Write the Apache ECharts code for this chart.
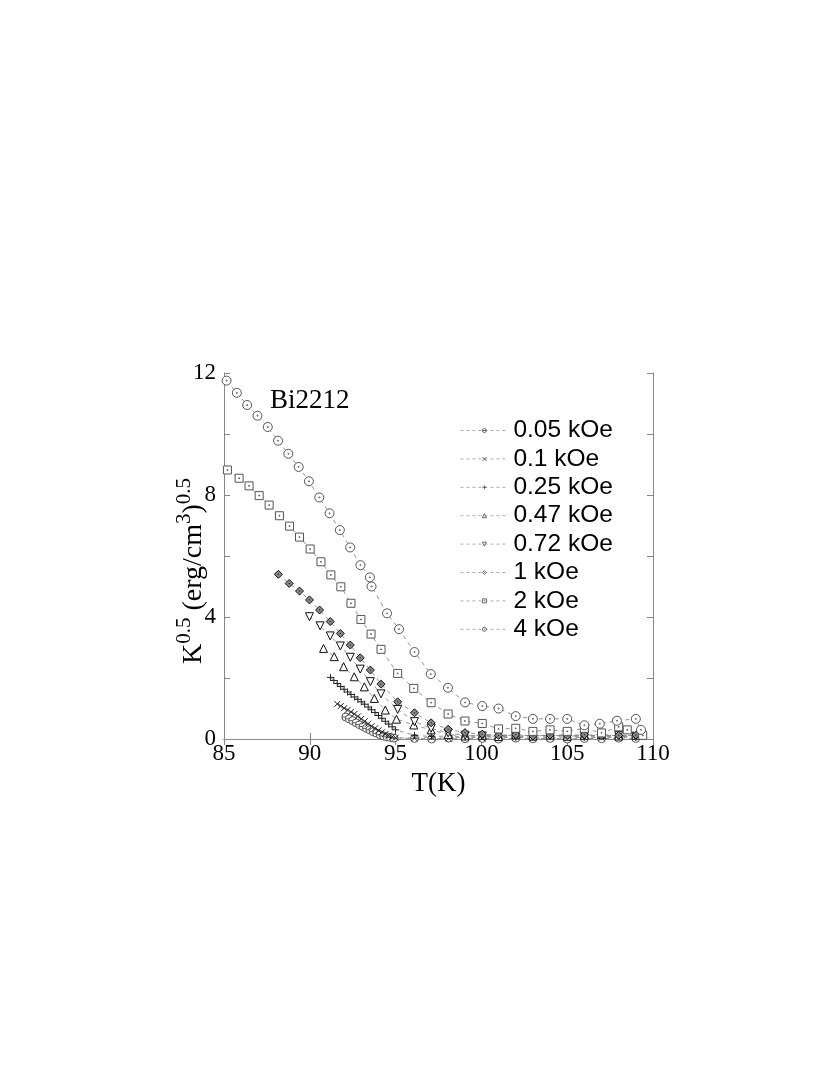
<!DOCTYPE html>
<html>
<head>
<meta charset="utf-8">
<script src="https://cdn.jsdelivr.net/npm/echarts@6/dist/echarts.min.js"></script>
<style>
html,body{margin:0;padding:0;background:#fff;}
#chart{width:830px;height:1075px;}
</style>
</head>
<body>
<div id="chart"></div>
<script>
// ---- data (T in K, K^0.5 in (erg/cm^3)^0.5) ----
const xTicks = [85, 90, 95, 100, 105, 110];
const yTicks = [0, 4, 8, 12];
const seriesNames = ['0.05 kOe', '0.1 kOe', '0.25 kOe', '0.47 kOe', '0.72 kOe', '1 kOe', '2 kOe', '4 kOe'];

const d005 = [[92.1,0.72],[92.3,0.66],[92.5,0.6],[92.7,0.53],[92.9,0.47],[93.1,0.41],[93.3,0.35],[93.5,0.3],[93.7,0.24],[93.9,0.19],[94.1,0.14],[94.3,0.1],[94.5,0.07],[94.7,0.05],[94.9,0.03],
  [96.1,0.02],[97.1,0.0],[98.1,0.03],[99.05,0.01],[100.05,0.02],[101,0.0],[102,0.03],[103,0.01],[104,0.02],[105,0.0],[106,0.02],[107,0.01],[108,0.03],[109,0.02]];
const d01 = [[91.6,1.15],[91.8,1.08],[92.0,1.01],[92.2,0.95],[92.4,0.89],[92.6,0.82],[92.8,0.74],[93.0,0.66],[93.2,0.58],[93.4,0.5],[93.6,0.42],[93.8,0.35],[94.0,0.28],[94.2,0.22],[94.4,0.16],[94.6,0.11],[94.8,0.07],[95.0,0.04],
  [96.1,0.03],[97.1,0.05],[98.1,0.02],[99.05,0.06],[100.05,0.03],[101,0.04],[102,0.06],[103,0.02],[104,0.05],[105,0.03],[106,0.06],[107,0.04],[108,0.05],[109,0.07]];
const d025 = [[91.2,2.02],[91.4,1.92],[91.6,1.82],[91.8,1.72],[92.0,1.63],[92.2,1.54],[92.4,1.46],[92.6,1.38],[92.8,1.3],[93.0,1.22],[93.2,1.14],[93.4,1.05],[93.6,0.96],[93.8,0.87],[94.0,0.77],[94.2,0.68],[94.4,0.58],[94.6,0.49],[94.8,0.4],[95.0,0.3],
  [96.1,0.12],[97.1,0.08],[98.1,0.1],[99.05,0.06],[100.05,0.09],[101,0.07],[102,0.1],[103,0.05],[104,0.08],[105,0.1],[106,0.06],[107,0.09],[108,0.07],[109,0.1]];
const d047 = [[90.8,2.97],[91.42,2.7],[91.97,2.37],[92.59,2.04],[93.18,1.71],[93.76,1.33],[94.4,0.95],[95.05,0.65],[96.06,0.46],[97.07,0.3],[98.06,0.15],
  [99.05,0.1],[100.05,0.12],[101,0.08],[102,0.14],[103,0.1],[104,0.13],[105,0.09],[106,0.12],[107,0.15],[108,0.1],[109,0.12]];
const d072 = [[89.98,4.01],[90.6,3.71],[91.19,3.38],[91.78,3.05],[92.36,2.68],[92.94,2.29],[93.53,1.88],[94.15,1.48],[95.12,0.97],[96.1,0.57],[97.07,0.35],[98.06,0.2],
  [99.05,0.12],[100.05,0.1],[101,0.14],[102,0.08],[103,0.12],[104,0.1],[105,0.15],[106,0.09],[107,0.13],[108,0.11],[109,0.08]];
const d1 = [[88.17,5.4],[88.8,5.1],[89.4,4.85],[89.98,4.56],[90.57,4.23],[91.19,3.85],[91.78,3.46],[92.36,3.08],[92.94,2.66],[93.53,2.26],[94.15,1.8],[95.12,1.22],[96.1,0.86],[97.07,0.53],[98.06,0.32],[99.04,0.21],
  [100.05,0.16],[101,0.12],[102,0.14],[103,0.1],[104,0.13],[105,0.11],[106,0.14],[107,0.1],[108,0.12],[109,0.13]];
const d2 = [[85.2,8.82],[85.88,8.55],[86.46,8.3],[87.05,7.98],[87.63,7.67],[88.23,7.32],[88.82,6.98],[89.4,6.62],[90.02,6.23],[90.65,5.81],[91.23,5.38],[91.81,4.99],[92.4,4.45],[92.98,3.92],[93.57,3.44],[94.15,2.94],[95.12,2.15],[96.06,1.66],[97.07,1.19],[98.06,0.82],[99.04,0.59],
  [100.05,0.51],[101,0.33],[102,0.35],[103,0.25],[104,0.3],[105,0.25],[106,0.35],[107,0.2],[108,0.4],[108.5,0.3],[109.4,0.12]];
const d4 = [[85.15,11.75],[85.75,11.35],[86.35,10.95],[86.95,10.6],[87.55,10.23],[88.15,9.78],[88.75,9.35],[89.35,8.92],[89.95,8.45],[90.55,7.92],[91.15,7.4],[91.75,6.85],[92.35,6.28],[92.95,5.7],[93.5,5.3],[93.6,5.0],[94.5,4.12],[95.2,3.6],[96.1,2.85],[97.05,2.13],[98.05,1.68],[99.05,1.2],[100.05,1.08],[101,1.0],[102,0.75],[103,0.66],[104,0.66],[105,0.66],[106,0.45],[106.9,0.5],[107.9,0.6],[109,0.66],[109.3,0.3]];

const allData = [d005, d01, d025, d047, d072, d1, d2, d4];

// ---- marker shapes ----
const symCircleBar = 'path://M10,5 A5,5 0 1 1 0,5 A5,5 0 1 1 10,5 Z M0,5 L10,5';
const symX = 'path://M0,0 L10,10 M10,0 L0,10';
const symPlus = 'path://M5,0 L5,10 M0,5 L10,5';
const symTriUp = 'path://M5,0 L10,9 L0,9 Z';
const symTriDown = 'path://M0,0 L10,0 L5,9 Z';
const symDiamond = 'path://M5,0 L10,5 L5,10 L0,5 Z M4.3,5 L5.7,5';
const symSquareDot = 'path://M0,0 L10,0 L10,10 L0,10 Z M4.5,4.5 L5.5,4.5 L5.5,5.5 L4.5,5.5 Z';
const symCircleDot = 'path://M10,5 A5,5 0 1 1 0,5 A5,5 0 1 1 10,5 Z M5.6,5 A0.6,0.6 0 1 1 4.4,5 A0.6,0.6 0 1 1 5.6,5 Z';

const styles = [
  {symbol: symCircleBar, size: 8, fill: '#fff', stroke: '#555'},
  {symbol: symX, size: 6, fill: '#fff', stroke: '#222'},
  {symbol: symPlus, size: 7, fill: '#fff', stroke: '#222'},
  {symbol: symTriUp, size: 8, fill: '#fff', stroke: '#111'},
  {symbol: symTriDown, size: 8, fill: '#fff', stroke: '#111'},
  {symbol: symDiamond, size: 8, fill: '#888', stroke: '#111'},
  {symbol: symSquareDot, size: 8, fill: '#fff', stroke: '#555'},
  {symbol: symCircleDot, size: 9, fill: '#fff', stroke: '#555'}
];

const series = seriesNames.map((name, i) => ({
  name: name,
  type: 'line',
  data: allData[i],
  symbol: styles[i].symbol,
  symbolSize: styles[i].size,
  showAllSymbol: true,
  lineStyle: {color: '#777', width: 0.8, type: [4, 4]},
  itemStyle: {color: styles[i].fill, borderColor: styles[i].stroke, borderWidth: 1},
  emphasis: {disabled: true},
  animation: false,
  z: 2 + i
}));

const chart = echarts.init(document.getElementById('chart'), null, {renderer: 'canvas'});
const serif = 'Liberation Serif';
chart.setOption({
  backgroundColor: '#fff',
  animation: false,
  grid: {left: 224, right: 177, top: 373, bottom: 336, containLabel: false},
  title: {
    text: 'Bi2212', left: 265, top: 382,
    textStyle: {fontFamily: serif, fontSize: 27, fontWeight: 'normal', color: '#000'}
  },
  legend: {
    data: seriesNames,
    orient: 'vertical',
    left: 460, top: 418, padding: 0,
    itemWidth: 48, itemHeight: 5, itemGap: 3.4,
    textStyle: {fontFamily: 'Liberation Sans', fontSize: 24.5, lineHeight: 24, color: '#000'},
    itemStyle: {color: '#fff', borderColor: '#444', borderWidth: 0.8},
    lineStyle: {color: '#999', width: 0.8, type: [3, 3]},
    selectedMode: false
  },
  xAxis: [{
    type: 'value', min: 85, max: 110, interval: 5,
    name: 'T(K)', nameLocation: 'middle', nameGap: 31, nameMoveOverlap: false,
    nameTextStyle: {fontFamily: serif, fontSize: 27, color: '#000'},
    axisLine: {show: true, lineStyle: {color: '#888', width: 1}},
    axisTick: {show: true, inside: true, length: 6, lineStyle: {color: '#888'}},
    axisLabel: {fontFamily: serif, fontSize: 23, color: '#000', margin: 3},
    splitLine: {show: false}
  }, {
    type: 'value', min: 85, max: 110, interval: 5, position: 'top',
    axisLine: {show: true, lineStyle: {color: '#888', width: 1}},
    axisTick: {show: true, inside: true, length: 6, lineStyle: {color: '#888'}},
    axisLabel: {show: false}, splitLine: {show: false}
  }],
  yAxis: [{
    type: 'value', min: 0, max: 12, interval: 2,
    name: '{b|K}{s|0.5}{b| (erg/cm}{s|3}{b|)}{s|0.5}',
    nameLocation: 'middle', nameGap: 16, nameRotate: 90, nameMoveOverlap: false,
    nameTextStyle: {
      fontFamily: serif, fontSize: 28, color: '#000', padding: [0, 30, 0, 0],
      rich: {
        b: {fontFamily: serif, fontSize: 28, color: '#000', verticalAlign: 'bottom', lineHeight: 34},
        s: {fontFamily: serif, fontSize: 21, color: '#000', verticalAlign: 'top', lineHeight: 34, padding: [0, 0, 12, 0]}
      }
    },
    axisLine: {show: true, lineStyle: {color: '#888', width: 1}},
    axisTick: {show: true, inside: true, length: 6, lineStyle: {color: '#888'}},
    axisLabel: {
      fontFamily: serif, fontSize: 23, color: '#000', margin: 8,
      formatter: v => (yTicks.indexOf(v) >= 0 ? String(v) : '')
    },
    splitLine: {show: false}
  }, {
    type: 'value', min: 0, max: 12, interval: 2, position: 'right',
    axisLine: {show: true, lineStyle: {color: '#888', width: 1}},
    axisTick: {show: true, inside: true, length: 6, lineStyle: {color: '#888'}},
    axisLabel: {show: false}, splitLine: {show: false}
  }],
  series: series
});
</script>
</body>
</html>
